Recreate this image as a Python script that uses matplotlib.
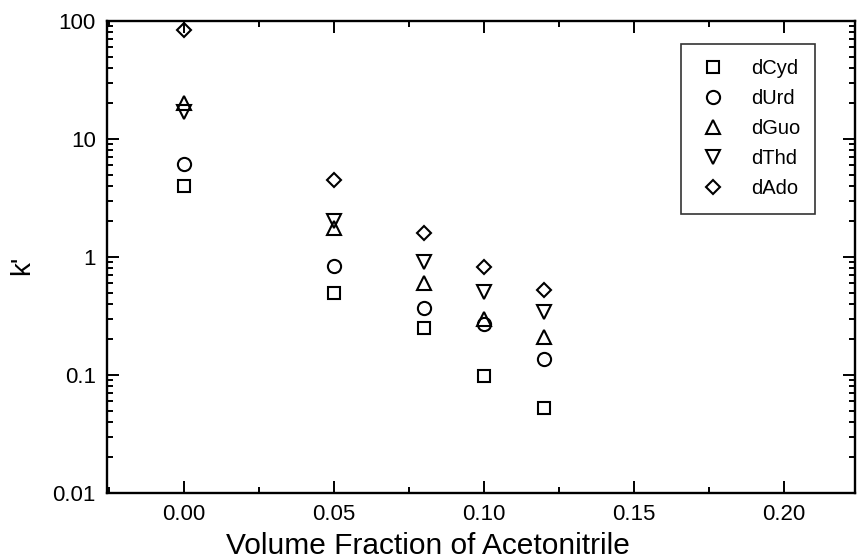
import matplotlib.pyplot as plt
from matplotlib.ticker import LogLocator, FixedLocator, MultipleLocator, FixedFormatter

plt.rcParams['font.family'] = ['Liberation Sans', 'DejaVu Sans']

# volume fraction of acetonitrile
frac = [0.00, 0.05, 0.08, 0.10, 0.12]

# capacity factors k'
k_dCyd = [4.0, 0.50, 0.25, 0.098, 0.053]
k_dUrd = [6.1, 0.84, 0.37, 0.27, 0.137]
k_dGuo = [20.0, 1.75, 0.60, 0.30, 0.21]
k_dThd = [17.1, 2.0, 0.90, 0.51, 0.345]
k_dAdo = [84.0, 4.5, 1.60, 0.82, 0.53]

names = ['dCyd', 'dUrd', 'dGuo', 'dThd', 'dAdo']
markers = ['s', 'o', '^', 'v', 'D']
sizes = [8, 9.5, 10, 10, 7.3]

ylabels = ['0.01', '0.1', '1', '10', '100']

W, H = 858, 560
fig = plt.figure(figsize=(W/100, H/100), dpi=100)
# axes box in pixels: left 107, right 855, top 21, bottom 493
ax = fig.add_axes([107/W, 1 - 493/H, (855-107)/W, (493-21)/H])

for name, vals, m, ms in zip(names, [k_dCyd, k_dUrd, k_dGuo, k_dThd, k_dAdo], markers, sizes):
    ax.plot(frac, vals, linestyle='none', marker=m, markersize=ms,
            markerfacecolor='none', markeredgecolor='black', markeredgewidth=1.5,
            label=name, clip_on=False)

ax.set_yscale('log')
ax.set_ylim(0.01, 100)
ax.set_xlim(-0.0257, 0.2237)

ax.xaxis.set_major_locator(MultipleLocator(0.05))
ax.xaxis.set_minor_locator(MultipleLocator(0.025))
ax.xaxis.set_major_formatter(plt.FuncFormatter(lambda v, p: f"{v:.2f}"))

ax.yaxis.set_major_locator(FixedLocator([0.01, 0.1, 1, 10, 100]))
ax.yaxis.set_major_formatter(FixedFormatter(ylabels))
ax.yaxis.set_minor_locator(LogLocator(base=10, subs=range(2, 10), numticks=20))
ax.yaxis.set_minor_formatter(plt.NullFormatter())

ax.tick_params(which='both', direction='in', top=True, right=True, width=1.4)
ax.tick_params(which='major', length=8.5, labelsize=16)
ax.tick_params(axis='x', which='major', pad=8)
ax.tick_params(axis='y', which='major', pad=8)
ax.tick_params(which='minor', length=4)

for sp in ax.spines.values():
    sp.set_linewidth(1.7)

# labels placed by figure pixels
fig.text(428/W, 1 - 546/H, 'Volume Fraction of Acetonitrile', fontsize=21.5,
         ha='center', va='center')
fig.text(22/W, 1 - 265/H, "k'", fontsize=20, rotation=90, ha='center', va='center')

leg = ax.legend(loc='upper right', bbox_to_anchor=((815-107)/748, 1 - (44-21)/472),
                fontsize=14.5, frameon=True, fancybox=False, edgecolor='black',
                borderpad=0.75, labelspacing=0.55, handletextpad=1.0, borderaxespad=0,
                handlelength=1.7)
leg.get_frame().set_linewidth(1.2)

fig.savefig('out.png', dpi=100)
